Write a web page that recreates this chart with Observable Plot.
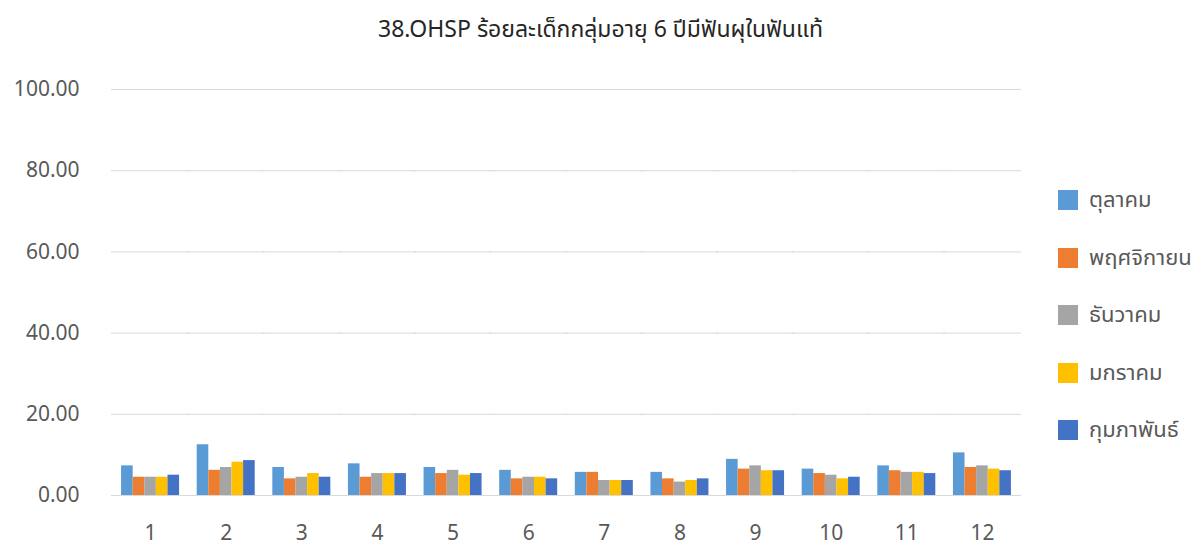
<!DOCTYPE html>
<html>
<head>
<meta charset="utf-8">
<script src="https://cdn.jsdelivr.net/npm/d3@7"></script>
<script src="https://cdn.jsdelivr.net/npm/@observablehq/plot@0.6"></script>
<style>
  html, body { margin: 0; padding: 0; background: #fff; }
  #wrap { position: relative; width: 1201px; height: 546px; font-family: "Noto Sans", "Noto Sans Thai", "Liberation Sans", sans-serif; }
  #title { position: absolute; left: 0; width: 1201px; top: 12px; text-align: center; font-size: 23px; color: #262626; line-height: 32px; }
  #legend { position: absolute; left: 1058px; top: 0; }
  .item { position: absolute; left: 0; white-space: nowrap; font-size: 22px; color: #595959; display: flex; align-items: center; }
  .sw { width: 20px; height: 20px; margin-right: 11px; flex: none; }
</style>
</head>
<body>
<div id="wrap">
  <div id="chart"></div>
  <div id="title">38.OHSP ร้อยละเด็กกลุ่มอายุ 6 ปีมีฟันผุในฟันแท้</div>
  <div id="legend"></div>
</div>
<script>
const groups = ["1","2","3","4","5","6","7","8","9","10","11","12"];
const seriesNames = ["ตุลาคม","พฤศจิกายน","ธันวาคม","มกราคม","กุมภาพันธ์"];
const colors = ["#5B9BD5","#ED7D31","#A5A5A5","#FFC000","#4472C4"];
const octValues = [7.3, 12.5, 6.9, 7.8, 6.9, 6.2, 5.7, 5.7, 8.9, 6.5, 7.3, 10.5];
const novValues = [4.5, 6.2, 4.1, 4.5, 5.4, 4.1, 5.7, 4.1, 6.5, 5.4, 6.1, 6.9];
const decValues = [4.5, 6.9, 4.5, 5.4, 6.2, 4.5, 3.7, 3.3, 7.3, 5.0, 5.7, 7.3];
const janValues = [4.5, 8.2, 5.4, 5.4, 5.0, 4.5, 3.7, 3.7, 6.1, 4.1, 5.7, 6.5];
const febValues = [5.0, 8.6, 4.5, 5.4, 5.4, 4.1, 3.7, 4.1, 6.1, 4.5, 5.4, 6.1];
const yTicks = [0, 20, 40, 60, 80, 100];

const seriesValues = [octValues, novValues, decValues, janValues, febValues];
const data = [];
groups.forEach((g, i) => seriesNames.forEach((s, j) => data.push({group: g, series: s, value: seriesValues[j][i]})));

const chart = Plot.plot({
  width: 1201,
  height: 546,
  marginLeft: 112,
  marginRight: 181,
  marginTop: 89,
  marginBottom: 51,
  style: { fontFamily: '"Noto Sans", "Liberation Sans", sans-serif', fontSize: "21px", color: "#595959", background: "#fff" },
  fx: { domain: groups, paddingInner: 0.233, paddingOuter: 0.12, round: false, label: null, axis: null },
  x: { domain: seriesNames, padding: 0, round: false, axis: null },
  y: { domain: [0, 100], label: null, axis: null },
  color: { domain: seriesNames, range: colors },
  marks: [
    Plot.ruleY(yTicks, { y: d => d, stroke: "#d9d9d9", strokeWidth: 1, insetLeft: -10, insetRight: -10 }),
    Plot.barY(data, { fx: "group", x: "series", y: "value", fill: "series" }),
    Plot.axisFx({ domain: groups, anchor: "bottom", tickSize: 0, tickPadding: 30, label: null, fontSize: 21 }),
    Plot.axisY(yTicks, { tickFormat: d => d.toFixed(2), tickSize: 0, tickPadding: 42, label: null, fontSize: 21 })
  ]
});
document.getElementById("chart").appendChild(chart);

const legend = document.getElementById("legend");
const legendTops = [200, 257.5, 315, 372.5, 430];
seriesNames.forEach((s, i) => {
  const item = document.createElement("div");
  item.className = "item";
  item.style.top = (legendTops[i] - 15) + "px";
  item.style.height = "30px";
  item.innerHTML = `<div class="sw" style="background:${colors[i]}"></div><span>${s}</span>`;
  legend.appendChild(item);
});
</script>
</body>
</html>
